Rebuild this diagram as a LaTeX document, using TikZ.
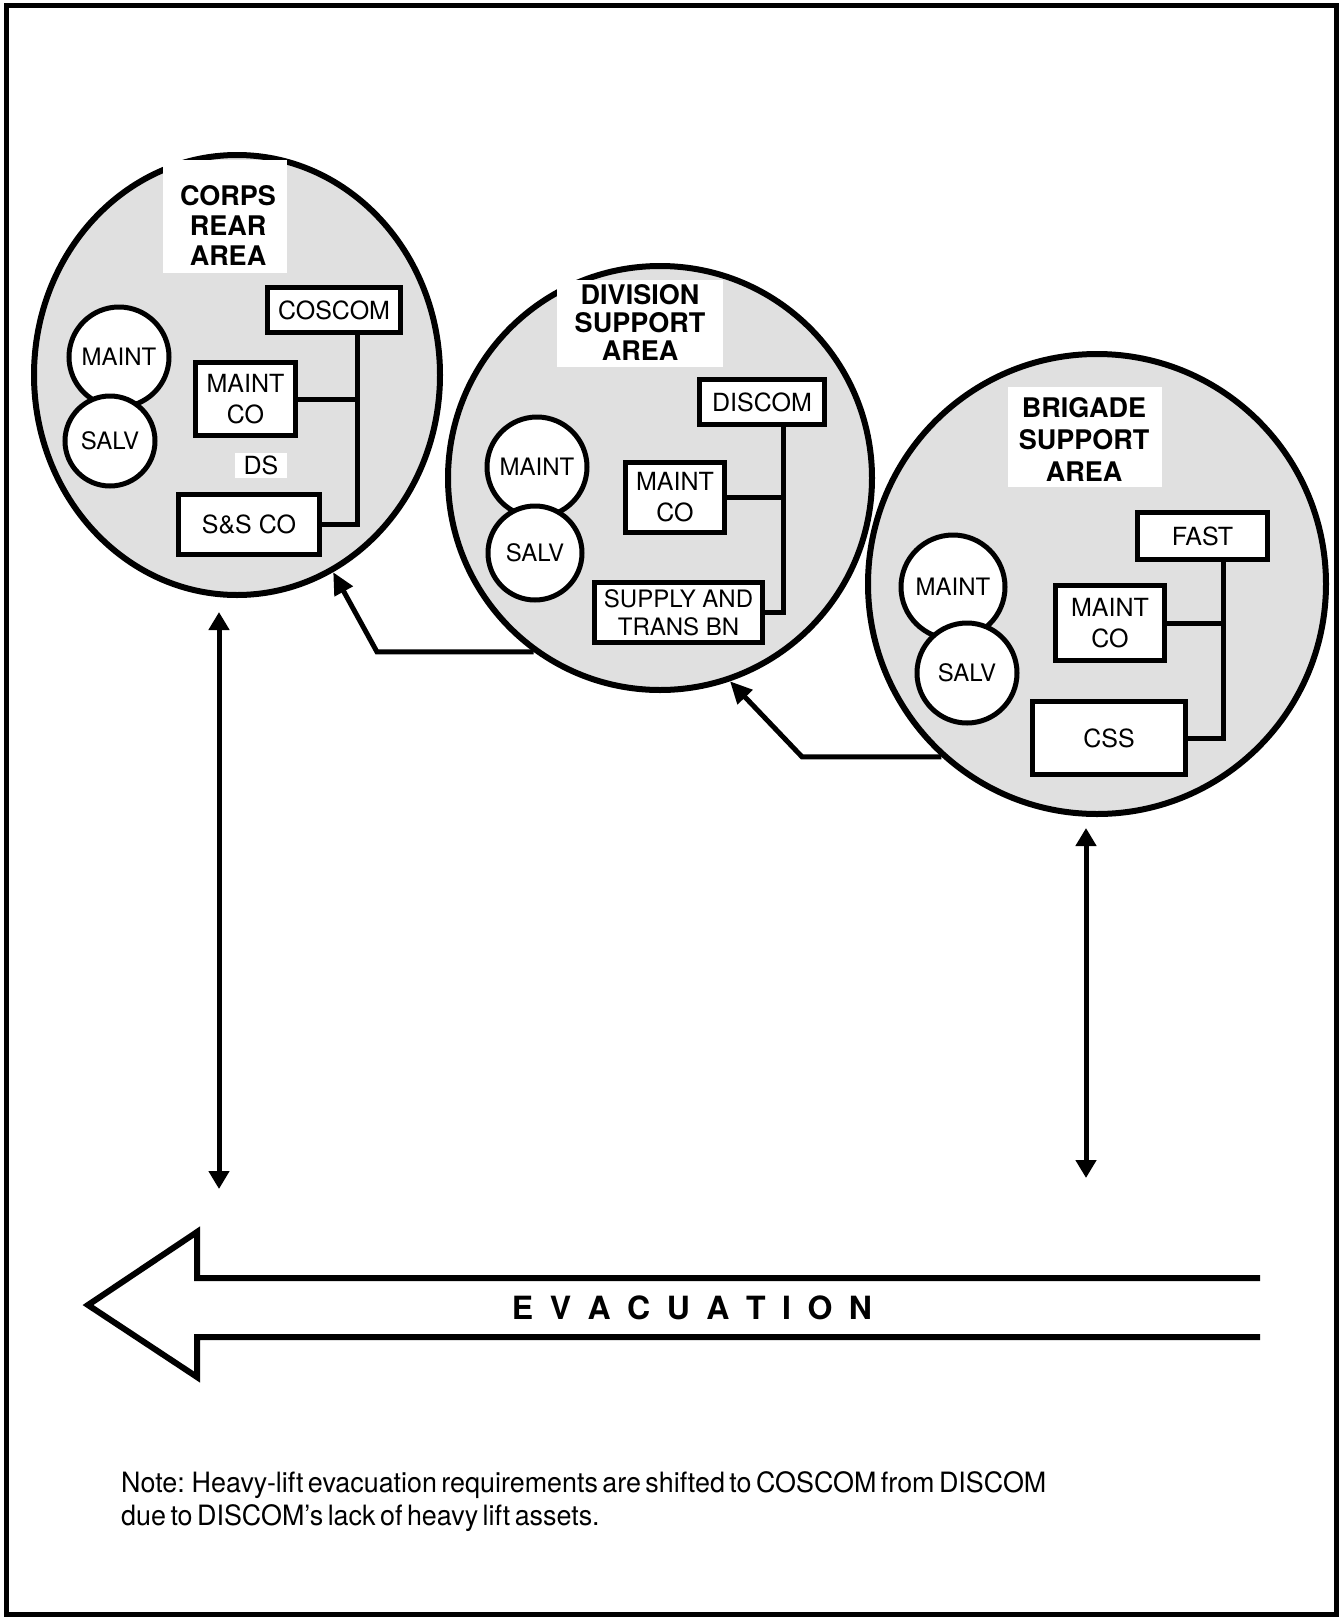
\documentclass[tikz,border=0pt]{standalone}
\usepackage{fontspec}
\setmainfont{TeX Gyre Heros}
\newfontfamily\notefont[FakeStretch=0.96,WordSpace=0.6]{TeX Gyre Heros}
\usetikzlibrary{shapes.geometric,arrows.meta}
\newcommand\evsp{\hspace{16.5pt}}
\begin{document}
\begin{tikzpicture}[x=1pt,y=-1pt,
  area/.style={ellipse, draw, line width=6pt, fill=black!12, inner sep=0pt},
  unit/.style={circle, draw, line width=5pt, fill=white, inner sep=0pt,
    font=\fontsize{24}{26}\selectfont},
  org/.style={rectangle, draw, line width=5pt, fill=white, inner sep=0pt,
    align=center, font=\fontsize{25}{31}\selectfont},
  areatitle/.style={align=center, inner sep=0pt},
  link/.style={line width=5pt},
  flow/.style={line width=5pt, -{Triangle[width=20pt,length=22pt]}},
  lift/.style={line width=5pt,
    {Triangle[width=20pt,length=18pt]}-{Triangle[width=20pt,length=18pt]}}
]
\useasboundingbox (0,0) rectangle (1340,1619);

% outer frame
\draw[line width=5pt] (6,6) rectangle (1336,1614);

% support areas
\node[area, minimum width=406, minimum height=440] (corps) at (237,375) {};
\node[area, minimum width=424, minimum height=424] (division) at (660,478) {};
\node[area, minimum width=458, minimum height=460] (brigade) at (1097,584) {};

% area titles on white ground
\fill[white] (163,160) rectangle (287,273);
\node[areatitle, font=\bfseries\fontsize{27}{30}\selectfont] (corpstitle) at (228,225) {CORPS\\REAR\\AREA};
\fill[white] (557,280) rectangle (723,367);
\node[areatitle, font=\bfseries\fontsize{27}{28}\selectfont] (divtitle) at (640,322) {DIVISION\\SUPPORT\\AREA};
\fill[white] (1008,387) rectangle (1162,487);
\node[areatitle, font=\bfseries\fontsize{27}{32}\selectfont] (brigtitle) at (1084,439) {BRIGADE\\SUPPORT\\AREA};

% corps rear area
\node[unit, minimum size=100] (cmaint) at (119,357) {MAINT};
\node[unit, minimum size=90] (csalv) at (110,441) {SALV};
\node[org, minimum width=133, minimum height=45] (coscom) at (334,310) {COSCOM};
\node[org, minimum width=100, minimum height=73] (cmco) at (245.5,399) {MAINT\\CO};
\node[org, minimum width=141, minimum height=60] (ssco) at (249,524.5) {S\&S CO};
\node[org, draw=none, minimum width=52, minimum height=25] (ds) at (261,465) {DS};
\coordinate (cbus) at (357,0);
\draw[link] (coscom.south -| cbus) |- (ssco.east);
\draw[link] (cmco.east) -- (cmco.east -| cbus);

% division support area
\node[unit, minimum size=100] (dmaint) at (537,467) {MAINT};
\node[unit, minimum size=94] (dsalv) at (535,553) {SALV};
\node[org, minimum width=125, minimum height=45] (discom) at (762,402) {DISCOM};
\node[org, minimum width=99, minimum height=70] (dmco) at (675,497.5) {MAINT\\CO};
\node[org, minimum width=168, minimum height=60, font=\fontsize{24}{28}\selectfont] (stbn) at (678.5,612.5) {SUPPLY AND\\TRANS BN};
\coordinate (dbus) at (783,0);
\draw[link] (discom.south -| dbus) |- (stbn.east);
\draw[link] (dmco.east) -- (dmco.east -| dbus);

% brigade support area
\node[unit, minimum size=104] (bmaint) at (953,587) {MAINT};
\node[unit, minimum size=100] (bsalv) at (967,673) {SALV};
\node[org, minimum width=130, minimum height=47] (fast) at (1202.5,536) {FAST};
\node[org, minimum width=109, minimum height=75] (bmco) at (1110,623) {MAINT\\CO};
\node[org, minimum width=153, minimum height=73] (css) at (1109,738) {CSS};
\coordinate (bbus) at (1223,0);
\draw[link] (fast.south -| bbus) |- (css.east);
\draw[link] (bmco.east) -- (bmco.east -| bbus);

% flow between areas
\coordinate (k1) at (377,652);
\draw[flow] (division.234) -- (division.234 -| k1) -- (corps.296);
\coordinate (k2) at (802,755);
\draw[flow] (brigade.228) -- (brigade.228 -| k2) -- (division.289);

% links down to the evacuation route
\coordinate (l1) at (219,612);
\coordinate (l2) at (219,1189);
\draw[lift] (l1) -- (l2);
\coordinate (r1) at (1086,828);
\coordinate (r2) at (1086,1178);
\draw[lift] (r1) -- (r2);

% evacuation arrow
\draw[line width=6pt, line join=miter, miter limit=20]
  (1260,1278) -- (197,1278) -- (197,1232) -- (88,1305) -- (197,1377) -- (197,1337) -- (1260,1337);
\node[font=\bfseries\fontsize{32}{32}\selectfont, inner sep=0pt] (evac) at (692,1308)
  {E\evsp V\evsp A\evsp C\evsp U\evsp A\evsp T\evsp I\evsp O\evsp N};

% note
\node[anchor=base west, inner sep=0pt, font=\notefont\fontsize{28}{30}\selectfont] (note1) at (121,1492)
  {Note: Heavy-lift evacuation requirements are shifted to COSCOM from DISCOM};
\node[anchor=base west, inner sep=0pt, font=\notefont\fontsize{28}{30}\selectfont] (note2) at (121,1525)
  {due to DISCOM’s lack of heavy lift assets.};
\end{tikzpicture}
\end{document}
